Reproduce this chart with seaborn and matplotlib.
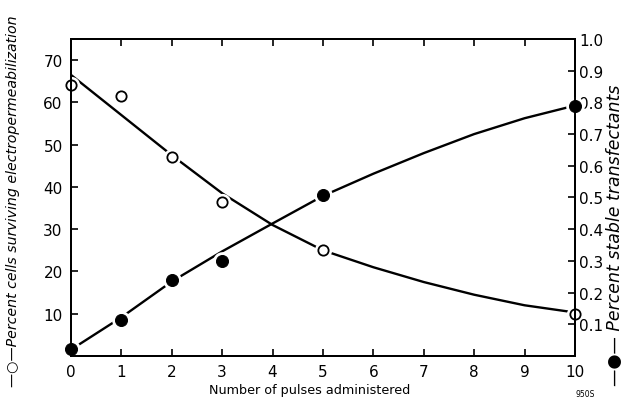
import numpy as np
import pandas as pd
import seaborn as sns
import matplotlib.pyplot as plt

# measured points
pulses = [0, 1, 2, 3, 5, 10]
surviving = [64, 61.5, 47, 36.5, 25, 10]          # left axis, open circles
transfect = [0.022, 0.113, 0.24, 0.30, 0.507, 0.79]  # right axis, filled circles

curve_x = [0, 1, 2, 3, 4, 5, 6, 7, 8, 9, 10]
surv_curve = [66.5, 57, 47.5, 38.5, 31, 25, 21, 17.5, 14.5, 12, 10.3]
trans_curve = [0.02, 0.122, 0.235, 0.33, 0.418, 0.505, 0.575, 0.64, 0.70, 0.75, 0.79]

left_ticks = [10, 20, 30, 40, 50, 60, 70]
right_ticks = [0.1, 0.2, 0.3, 0.4, 0.5, 0.6, 0.7, 0.8, 0.9, 1.0]

sns.set_style("ticks")
plt.rcParams['font.family'] = ['DejaVu Sans']
plt.rcParams['text.color'] = 'black'
plt.rcParams['axes.labelcolor'] = 'black'
plt.rcParams['xtick.color'] = 'black'
plt.rcParams['ytick.color'] = 'black'

fig = plt.figure(figsize=(6.26, 4.06), dpi=100)
ax = fig.add_axes([0.1134, 0.1207, 0.805, 0.7808])
ax2 = ax.twinx()

df_c = pd.DataFrame(dict(x=curve_x, s=surv_curve, t=trans_curve))
df_p = pd.DataFrame(dict(x=pulses, s=surviving, t=transfect))

# curves, with a white ring round each point so the line stops short of it
sns.lineplot(data=df_c, x="x", y="s", ax=ax, color="black", lw=1.7, zorder=1)
sns.scatterplot(data=df_p, x="x", y="s", ax=ax, s=55, facecolor="black",
                edgecolor="white", linewidth=5, zorder=4, clip_on=False)
sns.scatterplot(data=df_p, x="x", y="s", ax=ax, s=55, facecolor="white",
                edgecolor="black", linewidth=1.3, zorder=5, clip_on=False)

sns.lineplot(data=df_c, x="x", y="t", ax=ax2, color="black", lw=1.7, zorder=1)
sns.scatterplot(data=df_p, x="x", y="t", ax=ax2, s=70, facecolor="black",
                edgecolor="white", linewidth=5, zorder=4, clip_on=False)
sns.scatterplot(data=df_p, x="x", y="t", ax=ax2, s=75, color="black",
                edgecolor="black", zorder=5, clip_on=False)

ax.set_xlim(0, 10)
ax.set_ylim(0, 75)
ax2.set_ylim(0, 1.0)
ax.set_xticks(range(0, 11))
ax.set_yticks(left_ticks)
ax2.set_yticks(right_ticks)
ax2.set_yticklabels([f"{v:.1f}" for v in right_ticks])

for a in (ax, ax2):
    for sp in a.spines.values():
        sp.set_visible(True)
        sp.set_linewidth(1.4)
        sp.set_color("black")
        sp.set_zorder(6)
ax.tick_params(axis="both", direction="in", length=5, width=1.2,
               labelsize=11, top=True, pad=6)
ax2.tick_params(axis="y", direction="in", length=5, width=1.2,
                labelsize=11, pad=3)

ax.set_xlabel("Number of pulses administered", fontsize=9.2)
ax.xaxis.set_label_coords(0.474, -0.085)
ax.set_ylabel("\u2014\u25cb\u2014Percent cells surviving electropermeabilization",
              fontsize=10.2, style="italic")
ax2.set_ylabel("\u2014\u25cf\u2014 Percent stable transfectants",
               fontsize=12.5, style="italic", rotation=90)
ax.yaxis.set_label_coords(-0.101, 0.49)
ax2.yaxis.set_label_coords(1.062, 0.385)

fig.text(0.935, 0.022, "950S", fontsize=5.5, ha="center")

fig.savefig("out.png", dpi=100)
